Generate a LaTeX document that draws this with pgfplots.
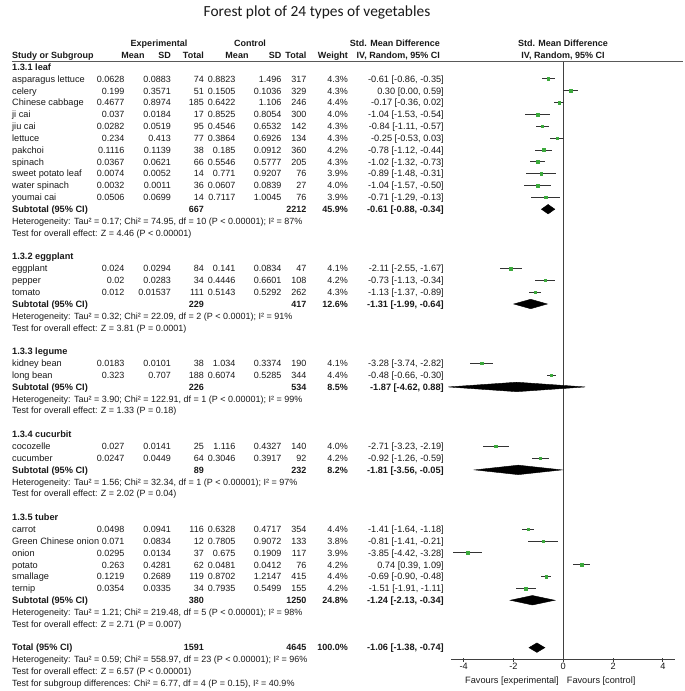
\documentclass[border=0pt]{standalone}
\usepackage{pgfplots}
\pgfplotsset{compat=1.18}
\usepackage{pgfplotstable}
\usepackage{fontspec}
\setmainfont{Liberation Sans}
\newfontfamily\titlefont{Carlito}
\definecolor{sqgreen}{RGB}{60,170,60}
\definecolor{txt}{RGB}{25,25,25}
\newcommand\nf{\fontsize{9pt}{10pt}\selectfont}
\newcommand\hf{\fontsize{9pt}{10pt}\selectfont\bfseries}

\pgfplotstableread{
y est lo hi
-1 -0.61 -0.86 -0.35
-2 0.30 0.00 0.59
-3 -0.17 -0.36 0.02
-4 -1.04 -1.53 -0.54
-5 -0.84 -1.11 -0.57
-6 -0.25 -0.53 0.03
-7 -0.78 -1.12 -0.44
-8 -1.02 -1.32 -0.73
-9 -0.89 -1.48 -0.31
-10 -1.04 -1.57 -0.50
-11 -0.71 -1.29 -0.13
-17 -2.11 -2.55 -1.67
-18 -0.73 -1.13 -0.34
-19 -1.13 -1.37 -0.89
-25 -3.28 -3.74 -2.82
-26 -0.48 -0.66 -0.30
-32 -2.71 -3.23 -2.19
-33 -0.92 -1.26 -0.59
-39 -1.41 -1.64 -1.18
-40 -0.81 -1.41 -0.21
-41 -3.85 -4.42 -3.28
-42 0.74 0.39 1.09
-43 -0.69 -0.90 -0.48
-44 -1.51 -1.91 -1.11
}\studies

\newcommand\St[9]{%
  \node[anchor=base west] at (12,#1) {#2};
  \node[anchor=base east] at (124.5,#1) {\nf #3};
  \node[anchor=base east] at (171,#1) {\nf #4};
  \node[anchor=base east] at (204,#1) {\nf #5};
  \node[anchor=base east] at (235.5,#1) {\nf #6};
  \node[anchor=base east] at (281.5,#1) {\nf #7};
  \node[anchor=base east] at (306.5,#1) {\nf #8};
  \node[anchor=base east] at (348,#1) {\nf #9\%};
}
\newcommand\CI[2]{\node[anchor=base east] at (444,#1) {#2};}
\newcommand\Sub[6]{%
  \node[anchor=base west,font=\bfseries] at (12,#1) {#2};
  \node[anchor=base east,font=\bfseries] at (204,#1) {\nf #3};
  \node[anchor=base east,font=\bfseries] at (306.5,#1) {\nf #4};
  \node[anchor=base east,font=\bfseries] at (348,#1) {\nf #5\%};
  \node[anchor=base east,font=\bfseries] at (444,#1) {#6};
}
\newcommand\Tx[2]{\node[anchor=base west] at (12,#1) {\nf #2};}
\newcommand\Hd[2]{\node[anchor=base west,font=\bfseries] at (12,#1) {#2};}

\begin{document}
\fontsize{9.2pt}{11pt}\selectfont
\begin{tikzpicture}
\path[use as bounding box] (0,0) rectangle (685pt,-691pt);

\node[anchor=base,font=\titlefont\fontsize{15.4pt}{18pt}\selectfont,text=txt] at (317pt,-16pt) {Forest plot of 24 types of vegetables};

\begin{axis}[
  at={(451.25pt,-61.075pt)}, anchor=north west, scale only axis,
  width=224.1pt, height=598.425pt,
  xmin=-4.5, xmax=4.5, ymin=-50, ymax=0.5,
  axis x line*=bottom, axis y line=none,
  x axis line style={-, black!75, line width=0.9pt},
  xtick={-4,-2,0,2,4}, xticklabels={-4,-2,0,2,4},
  tick align=center, major tick length=4pt,
  tick style={black!75, line width=0.9pt},
  xticklabel style={anchor=north, inner sep=1pt, text=txt},
  clip=false,
]
\addplot[black!75, line width=0.9pt, forget plot] coordinates {(0,0.5) (0,-50)};
\addplot[draw=none, mark=none, forget plot,
  error bars/.cd, x dir=both, x explicit, error mark=none,
  error bar style={draw=black!80, line width=0.9pt}]
  table[x=est, y=y, x error plus expr={\thisrow{hi}-\thisrow{est}}, x error minus expr={\thisrow{est}-\thisrow{lo}}] {\studies};
\addplot[only marks, mark=square*, mark size=1.3pt, mark options={fill=sqgreen, draw=sqgreen}] table[x=est, y=y] {\studies};
% pooled diamonds
\addplot[fill=black, draw=black] coordinates {(-0.88,-12) (-0.61,-11.6) (-0.34,-12) (-0.61,-12.4)} --cycle;
\addplot[fill=black, draw=black] coordinates {(-1.99,-20) (-1.31,-19.6) (-0.64,-20) (-1.31,-20.4)} --cycle;
\addplot[fill=black, draw=black] coordinates {(-4.62,-27) (-1.87,-26.6) (0.88,-27) (-1.87,-27.4)} --cycle;
\addplot[fill=black, draw=black] coordinates {(-3.56,-34) (-1.81,-33.6) (-0.05,-34) (-1.81,-34.4)} --cycle;
\addplot[fill=black, draw=black] coordinates {(-2.13,-45) (-1.24,-44.6) (-0.34,-45) (-1.24,-45.4)} --cycle;
\addplot[fill=black, draw=black] coordinates {(-1.38,-49) (-1.06,-48.6) (-0.74,-49) (-1.06,-49.4)} --cycle;
\end{axis}

\begin{scope}[x=1pt, y=-11.85pt, yshift=-67pt, every node/.style={inner sep=0pt, yshift=-3.3pt, text=txt}]
\draw[line width=1.2pt, black!65] (12,-0.49) -- (683,-0.49);
% headers
\node[anchor=base,font=\hf] at (159,-2) {Experimental};
\node[anchor=base,font=\hf] at (250,-2) {Control};
\node[anchor=base east,font=\hf] at (440,-2) {Std. Mean Difference};
\node[anchor=base,font=\hf] at (563,-2) {Std. Mean Difference};
\node[anchor=base west,font=\hf] at (12,-1) {Study or Subgroup};
\node[anchor=base,font=\hf] at (133,-1) {Mean};
\node[anchor=base east,font=\hf] at (171,-1) {SD};
\node[anchor=base east,font=\hf] at (204,-1) {Total};
\node[anchor=base,font=\hf] at (237,-1) {Mean};
\node[anchor=base east,font=\hf] at (281.5,-1) {SD};
\node[anchor=base east,font=\hf] at (306.5,-1) {Total};
\node[anchor=base east,font=\hf] at (348,-1) {Weight};
\node[anchor=base east,font=\hf] at (440,-1) {IV, Random, 95\% CI};
\node[anchor=base,font=\hf] at (563,-1) {IV, Random, 95\% CI};

% leaf
\Hd{0}{1.3.1 leaf}
\St{1}{asparagus lettuce}{0.0628}{0.0883}{74}{0.8823}{1.496}{317}{4.3}\CI{1}{-0.61 [-0.86, -0.35]}
\St{2}{celery}{0.199}{0.3571}{51}{0.1505}{0.1036}{329}{4.3}\CI{2}{0.30 [0.00, 0.59]}
\St{3}{Chinese cabbage}{0.4677}{0.8974}{185}{0.6422}{1.106}{246}{4.4}\CI{3}{-0.17 [-0.36, 0.02]}
\St{4}{ji cai}{0.037}{0.0184}{17}{0.8525}{0.8054}{300}{4.0}\CI{4}{-1.04 [-1.53, -0.54]}
\St{5}{jiu cai}{0.0282}{0.0519}{95}{0.4546}{0.6532}{142}{4.3}\CI{5}{-0.84 [-1.11, -0.57]}
\St{6}{lettuce}{0.234}{0.413}{77}{0.3864}{0.6926}{134}{4.3}\CI{6}{-0.25 [-0.53, 0.03]}
\St{7}{pakchoi}{0.1116}{0.1139}{38}{0.185}{0.0912}{360}{4.2}\CI{7}{-0.78 [-1.12, -0.44]}
\St{8}{spinach}{0.0367}{0.0621}{66}{0.5546}{0.5777}{205}{4.3}\CI{8}{-1.02 [-1.32, -0.73]}
\St{9}{sweet potato leaf}{0.0074}{0.0052}{14}{0.771}{0.9207}{76}{3.9}\CI{9}{-0.89 [-1.48, -0.31]}
\St{10}{water spinach}{0.0032}{0.0011}{36}{0.0607}{0.0839}{27}{4.0}\CI{10}{-1.04 [-1.57, -0.50]}
\St{11}{youmai cai}{0.0506}{0.0699}{14}{0.7117}{1.0045}{76}{3.9}\CI{11}{-0.71 [-1.29, -0.13]}
\Sub{12}{Subtotal (95\% CI)}{667}{2212}{45.9}{-0.61 [-0.88, -0.34]}
\Tx{13}{Heterogeneity: Tau² = 0.17; Chi² = 74.95, df = 10 (P < 0.00001); I² = 87\%}
\Tx{14}{Test for overall effect: Z = 4.46 (P < 0.00001)}
% eggplant
\Hd{16}{1.3.2 eggplant}
\St{17}{eggplant}{0.024}{0.0294}{84}{0.141}{0.0834}{47}{4.1}\CI{17}{-2.11 [-2.55, -1.67]}
\St{18}{pepper}{0.02}{0.0283}{34}{0.4446}{0.6601}{108}{4.2}\CI{18}{-0.73 [-1.13, -0.34]}
\St{19}{tomato}{0.012}{0.01537}{111}{0.5143}{0.5292}{262}{4.3}\CI{19}{-1.13 [-1.37, -0.89]}
\Sub{20}{Subtotal (95\% CI)}{229}{417}{12.6}{-1.31 [-1.99, -0.64]}
\Tx{21}{Heterogeneity: Tau² = 0.32; Chi² = 22.09, df = 2 (P < 0.0001); I² = 91\%}
\Tx{22}{Test for overall effect: Z = 3.81 (P = 0.0001)}
% legume
\Hd{24}{1.3.3 legume}
\St{25}{kidney bean}{0.0183}{0.0101}{38}{1.034}{0.3374}{190}{4.1}\CI{25}{-3.28 [-3.74, -2.82]}
\St{26}{long bean}{0.323}{0.707}{188}{0.6074}{0.5285}{344}{4.4}\CI{26}{-0.48 [-0.66, -0.30]}
\Sub{27}{Subtotal (95\% CI)}{226}{534}{8.5}{-1.87 [-4.62, 0.88]}
\Tx{28}{Heterogeneity: Tau² = 3.90; Chi² = 122.91, df = 1 (P < 0.00001); I² = 99\%}
\Tx{29}{Test for overall effect: Z = 1.33 (P = 0.18)}
% cucurbit
\Hd{31}{1.3.4 cucurbit}
\St{32}{cocozelle}{0.027}{0.0141}{25}{1.116}{0.4327}{140}{4.0}\CI{32}{-2.71 [-3.23, -2.19]}
\St{33}{cucumber}{0.0247}{0.0449}{64}{0.3046}{0.3917}{92}{4.2}\CI{33}{-0.92 [-1.26, -0.59]}
\Sub{34}{Subtotal (95\% CI)}{89}{232}{8.2}{-1.81 [-3.56, -0.05]}
\Tx{35}{Heterogeneity: Tau² = 1.56; Chi² = 32.34, df = 1 (P < 0.00001); I² = 97\%}
\Tx{36}{Test for overall effect: Z = 2.02 (P = 0.04)}
% tuber
\Hd{38}{1.3.5 tuber}
\St{39}{carrot}{0.0498}{0.0941}{116}{0.6328}{0.4717}{354}{4.4}\CI{39}{-1.41 [-1.64, -1.18]}
\St{40}{Green Chinese onion}{0.071}{0.0834}{12}{0.7805}{0.9072}{133}{3.8}\CI{40}{-0.81 [-1.41, -0.21]}
\St{41}{onion}{0.0295}{0.0134}{37}{0.675}{0.1909}{117}{3.9}\CI{41}{-3.85 [-4.42, -3.28]}
\St{42}{potato}{0.263}{0.4281}{62}{0.0481}{0.0412}{76}{4.2}\CI{42}{0.74 [0.39, 1.09]}
\St{43}{smallage}{0.1219}{0.2689}{119}{0.8702}{1.2147}{415}{4.4}\CI{43}{-0.69 [-0.90, -0.48]}
\St{44}{ternip}{0.0354}{0.0335}{34}{0.7935}{0.5499}{155}{4.2}\CI{44}{-1.51 [-1.91, -1.11]}
\Sub{45}{Subtotal (95\% CI)}{380}{1250}{24.8}{-1.24 [-2.13, -0.34]}
\Tx{46}{Heterogeneity: Tau² = 1.21; Chi² = 219.48, df = 5 (P < 0.00001); I² = 98\%}
\Tx{47}{Test for overall effect: Z = 2.71 (P = 0.007)}
% total
\Sub{49}{Total (95\% CI)}{1591}{4645}{100.0}{-1.06 [-1.38, -0.74]}
\Tx{50}{Heterogeneity: Tau² = 0.59; Chi² = 558.97, df = 23 (P < 0.00001); I² = 96\%}
\Tx{51}{Test for overall effect: Z = 6.57 (P < 0.00001)}
\Tx{52}{Test for subgroup differences: Chi² = 6.77, df = 4 (P = 0.15), I² = 40.9\%}
\node[anchor=base east] at (559,51.73) {Favours [experimental]};
\node[anchor=base west] at (566.7,51.73) {Favours [control]};
\end{scope}
\end{tikzpicture}
\end{document}
